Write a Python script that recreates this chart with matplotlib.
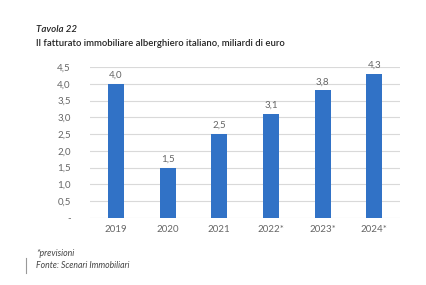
import matplotlib.pyplot as plt
from matplotlib.lines import Line2D

plt.rcParams['font.family'] = ['Lato', 'DejaVu Sans']

anni = ['2019', '2020', '2021', '2022*', '2023*', '2024*']
fatturato = [4.0, 1.5, 2.5, 3.1, 3.8, 4.3]
y_ticks = [0, 0.5, 1.0, 1.5, 2.0, 2.5, 3.0, 3.5, 4.0, 4.5]

fig = plt.figure(figsize=(4.27, 2.85), dpi=100)
ax = fig.add_axes([0.211, 0.235, 0.726, 0.53])

x = range(len(anni))
ax.bar(x, fatturato, width=0.31, color='#3172c6', zorder=3)

# etichette dei valori sopra le barre
for xi, v in zip(x, fatturato):
    ax.text(xi, v + 0.12, f'{v:.1f}'.replace('.', ','), ha='center', va='bottom',
            fontsize=7, color='#666666')

ax.set_xlim(-0.5, len(anni) - 0.5)
ax.set_ylim(0, 4.5)
ax.set_yticks(y_ticks)
ax.set_yticklabels(['-'] + [f'{t:.1f}'.replace('.', ',') for t in y_ticks[1:]])
ax.set_xticks(list(x))
ax.set_xticklabels(anni)
ax.tick_params(axis='y', length=0, pad=14, labelsize=7, labelcolor='#666666')
ax.tick_params(axis='x', length=0, pad=5, labelsize=7, labelcolor='#666666')
ax.grid(axis='y', color='#d9d9d9', linewidth=0.8, zorder=0)
for s in ax.spines.values():
    s.set_visible(False)

fig.text(36 / 427, 1 - 30 / 285, 'Tavola 22', fontsize=7, style='italic',
         fontweight='semibold', color='#222222', va='center')
fig.text(36 / 427, 1 - 43 / 285, 'Il fatturato immobiliare alberghiero italiano, miliardi di euro',
         fontsize=6.8, fontweight='semibold', color='#222222', va='center')
fig.text(36 / 427, 1 - 254 / 285, '*previsioni', fontsize=6.3, style='italic',
         color='#444444', va='center')
fig.text(36 / 427, 1 - 266 / 285, 'Fonte: Scenari Immobiliari', fontsize=6.2, style='italic',
         color='#444444', va='center')
fig.add_artist(Line2D([26 / 427, 26 / 427], [1 - 273 / 285, 1 - 258 / 285],
                      color='#999999', linewidth=0.8))

fig.savefig('out.png', dpi=100)
